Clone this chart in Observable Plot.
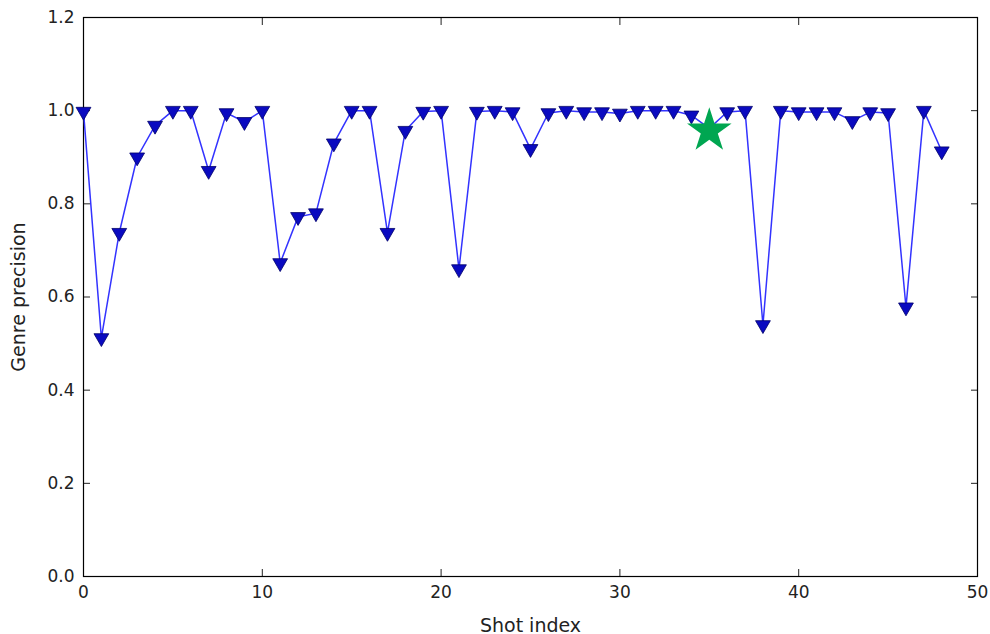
<!DOCTYPE html>
<html><head><meta charset="utf-8">
<script src="https://cdn.jsdelivr.net/npm/d3@7"></script>
<script src="https://cdn.jsdelivr.net/npm/@observablehq/plot@0.6"></script>
<style>body{margin:0;background:#fff}</style>
</head><body><div id="chart"></div>
<script>
const shotIndex = [0,1,2,3,4,5,6,7,8,9,10,11,12,13,14,15,16,17,18,19,20,21,22,23,24,25,26,27,28,29,30,31,32,33,34,35,36,37,38,39,40,41,42,43,44,45,46,47,48];
const precision = [0.998,0.512,0.738,0.90,0.968,1.0,1.0,0.871,0.995,0.976,1.0,0.673,0.772,0.78,0.93,1.0,1.0,0.738,0.957,0.998,1.0,0.66,0.998,1.0,0.997,0.918,0.995,1.0,0.997,0.997,0.994,1.0,1.0,1.0,0.99,0.962,0.997,1.0,0.54,1.0,0.997,0.997,0.997,0.978,0.997,0.995,0.578,1.0,0.913];
const starIndex = [35];
const starValue = [0.957];
const xTicks = [0,10,20,30,40,50];
const yTicks = [0,0.2,0.4,0.6,0.8,1.0,1.2];

const data = shotIndex.map((x,i)=>({x, y: precision[i]}));
const starData = starIndex.map((x,i)=>({x, y: starValue[i]}));
const markerData = data.filter(d => !starIndex.includes(d.x));
const font = "DejaVu Sans, sans-serif";

const chart = Plot.plot({
  width: 990, height: 634,
  marginLeft: 83, marginRight: 13, marginTop: 17, marginBottom: 58,
  style: {fontFamily: font, fontSize: "17px", color: "#222", background: "#fff"},
  x: {domain: [0,50]},
  y: {domain: [0,1.2]},
  marks: [
    Plot.axisX({anchor: "bottom", ticks: xTicks, tickSize: -7, tickPadding: 16, tickFormat: d => d3.format("d")(d), fontSize: 17, label: null}),
    Plot.axisX({anchor: "bottom", ticks: [], label: "Shot index", labelAnchor: "center", labelArrow: "none", labelOffset: 55, fontSize: 19}),
    Plot.axisX({anchor: "top", ticks: xTicks, tickSize: -7, tickFormat: () => "", label: null}),
    Plot.axisY({anchor: "left", ticks: yTicks, tickSize: -7, tickPadding: 16, tickFormat: d3.format(".1f"), fontSize: 17, label: null}),
    Plot.axisY({anchor: "left", ticks: [], label: "Genre precision", labelAnchor: "center", labelArrow: "none", labelOffset: 72, fontSize: 19}),
    Plot.axisY({anchor: "right", ticks: yTicks, tickSize: -7, tickFormat: () => "", label: null}),
    Plot.frame({stroke: "#000", strokeWidth: 1.2}),
    Plot.line(data, {x: "x", y: "y", stroke: "#3333ff", strokeWidth: 1.5}),
    Plot.dot(markerData, {x: "x", y: "y", symbol: "triangle", rotate: 180, r: 5.5, fill: "#0a0ac0", stroke: "#00006a", strokeWidth: 0.8}),
    Plot.dot(starData, {x: "x", y: "y", symbol: "star", r: 14, fill: "#00a651", stroke: "none"})
  ]
});
document.getElementById("chart").append(chart);
</script></body></html>
